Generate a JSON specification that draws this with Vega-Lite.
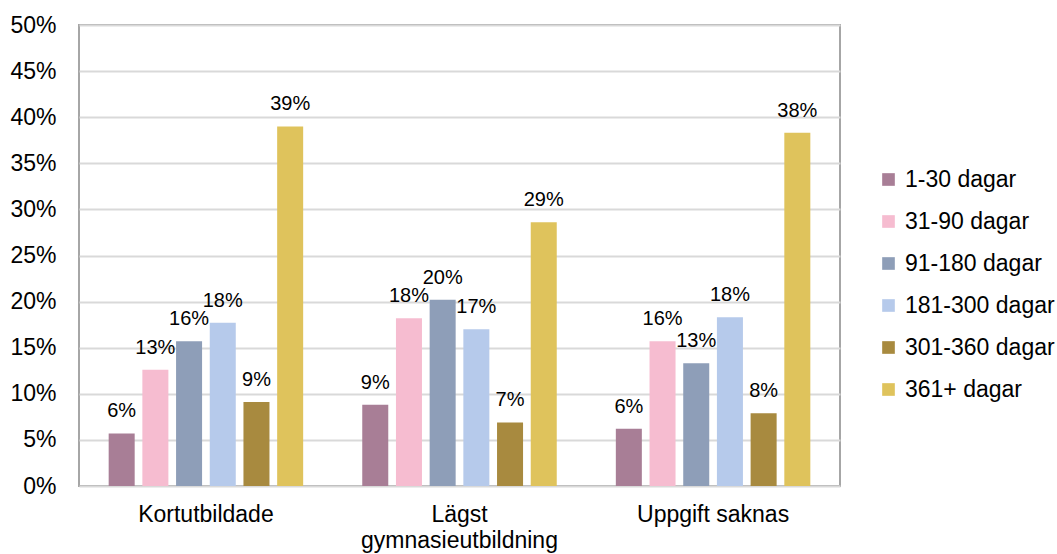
{
  "$schema": "https://vega.github.io/schema/vega-lite/v6.json",
  "width": 761,
  "height": 461,
  "autosize": "none",
  "padding": {"left": 79, "top": 25, "right": 217, "bottom": 68},
  "config": {
    "font": "Liberation Sans",
    "view": {"stroke": "#a6a6a6", "strokeWidth": 2},
    "axis": {"labelFont": "Liberation Sans", "labelColor": "#000000", "labelFontSize": 23, "ticks": false, "domain": false}
  },
  "data": {
    "values": [
      {"group": "Kortutbildade", "series": "1-30 dagar", "value": 0.057},
      {"group": "Kortutbildade", "series": "31-90 dagar", "value": 0.126},
      {"group": "Kortutbildade", "series": "91-180 dagar", "value": 0.157},
      {"group": "Kortutbildade", "series": "181-300 dagar", "value": 0.177},
      {"group": "Kortutbildade", "series": "301-360 dagar", "value": 0.091},
      {"group": "Kortutbildade", "series": "361+ dagar", "value": 0.390},
      {"group": "Lägst gymnasieutbildning", "series": "1-30 dagar", "value": 0.088},
      {"group": "Lägst gymnasieutbildning", "series": "31-90 dagar", "value": 0.182},
      {"group": "Lägst gymnasieutbildning", "series": "91-180 dagar", "value": 0.202},
      {"group": "Lägst gymnasieutbildning", "series": "181-300 dagar", "value": 0.170},
      {"group": "Lägst gymnasieutbildning", "series": "301-360 dagar", "value": 0.069},
      {"group": "Lägst gymnasieutbildning", "series": "361+ dagar", "value": 0.286},
      {"group": "Uppgift saknas", "series": "1-30 dagar", "value": 0.062},
      {"group": "Uppgift saknas", "series": "31-90 dagar", "value": 0.157},
      {"group": "Uppgift saknas", "series": "91-180 dagar", "value": 0.133},
      {"group": "Uppgift saknas", "series": "181-300 dagar", "value": 0.183},
      {"group": "Uppgift saknas", "series": "301-360 dagar", "value": 0.079},
      {"group": "Uppgift saknas", "series": "361+ dagar", "value": 0.383}
    ]
  },
  "encoding": {
    "x": {
      "field": "group",
      "type": "nominal",
      "sort": null,
      "scale": {"paddingInner": 0.233, "paddingOuter": 0.117},
      "axis": {
        "title": null,
        "labelAngle": 0,
        "labelPadding": 17,
        "labelLineHeight": 26,
        "labelLimit": 400,
        "grid": false,
        "labelExpr": "datum.label == 'Lägst gymnasieutbildning' ? ['Lägst', 'gymnasieutbildning'] : datum.label"
      }
    },
    "xOffset": {
      "field": "series",
      "type": "nominal",
      "sort": null,
      "scale": {"paddingInner": 0.228, "paddingOuter": 0}
    },
    "y": {
      "field": "value",
      "type": "quantitative",
      "scale": {"domain": [0, 0.5], "nice": false},
      "axis": {
        "title": null,
        "format": ".0%",
        "values": [0, 0.05, 0.1, 0.15, 0.2, 0.25, 0.3, 0.35, 0.4, 0.45, 0.5],
        "labelPadding": 23,
        "gridColor": "#d9d9d9",
        "gridWidth": 2
      }
    }
  },
  "layer": [
    {
      "mark": {"type": "bar"},
      "encoding": {
        "color": {
          "field": "series",
          "type": "nominal",
          "sort": null,
          "scale": {
            "domain": ["1-30 dagar", "31-90 dagar", "91-180 dagar", "181-300 dagar", "301-360 dagar", "361+ dagar"],
            "range": ["#a87e96", "#f6bcd0", "#8e9eb8", "#b6caeb", "#a88a3f", "#dfc35c"]
          },
          "legend": {
            "title": null,
            "orient": "none",
            "legendX": 798,
            "legendY": 143,
            "symbolType": "square",
            "symbolSize": 160,
            "symbolStrokeWidth": 0,
            "labelFontSize": 23,
            "labelFont": "Liberation Sans",
            "labelColor": "#000000",
            "labelOffset": 5,
            "rowPadding": 18
          }
        }
      }
    },
    {
      "mark": {"type": "text", "baseline": "alphabetic", "dy": -16, "fontSize": 20, "color": "#000000"},
      "encoding": {
        "text": {"field": "value", "type": "quantitative", "format": ".0%"}
      }
    }
  ]
}
